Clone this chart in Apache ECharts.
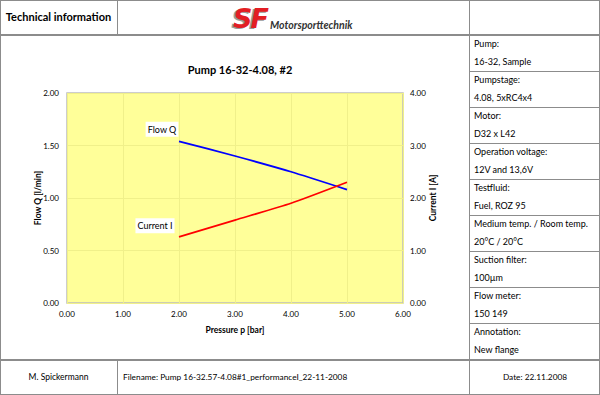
<!DOCTYPE html>
<html><head><meta charset="utf-8">
<script src="https://cdn.jsdelivr.net/npm/echarts@6/dist/echarts.min.js"></script>
<style>
html,body{margin:0;padding:0;background:#fff;}
#wrap{position:relative;width:600px;height:395px;font-family:Lato,"Noto Sans",sans-serif;color:#000;overflow:hidden;}
#chart{position:absolute;left:0;top:0;width:600px;height:395px;}
.ln{position:absolute;background:#8c8c8c;}
.t{position:absolute;font-size:9px;white-space:nowrap;line-height:12px;}
</style></head>
<body>
<div id="wrap">
  <div id="chart"></div>
  <div id="frame"></div>
</div>
<script>
const pressure = [2.0, 3.0, 4.0, 5.0];
const flowQ = [1.54, 1.40, 1.25, 1.08];
const currentI = [1.26, 1.58, 1.90, 2.30];
const chartTitle = 'Pump 16-32-4.08, #2';
const infoLabels = ['Pump:', 'Pumpstage:', 'Motor:', 'Operation voltage:', 'Testfluid:', 'Medium temp. / Room temp.', 'Suction filter:', 'Flow meter:', 'Annotation:'];
const infoValues = ['16-32, Sample', '4.08, 5xRC4x4', 'D32 x L42', '12V and 13,6V', 'Fuel, ROZ 95', '20°C / 20°C', '100µm', '150 149', 'New flange'];
const footer = ['M. Spickermann', 'Filename: Pump 16-32.57-4.08#1_performanceI_22-11-2008', 'Date: 22.11.2008'];

// frame
const fr = document.getElementById('frame');
function line(x,y,w,h,c){const d=document.createElement('div');d.className='ln';d.style.cssText=`left:${x}px;top:${y}px;width:${w}px;height:${h}px;`+(c?`background:${c};`:'');fr.appendChild(d);}
function txt(s,x,y,css){const d=document.createElement('div');d.className='t';d.textContent=s;d.style.cssText+=`left:${x}px;top:${y}px;`+(css||'');fr.appendChild(d);return d;}
line(0,0,600,1); line(0,394,600,1); line(0,0,1,395); line(599,0,1,395);
line(0,34,600,2);
line(0,359,600,1.5);
line(117,0,1,35); line(117,359,1,36);
line(469,0,1,395);
const top0=35, bh=(359-35)/9;
for(let i=0;i<9;i++){
  const y=top0+i*bh;
  if(i>0) line(469,Math.round(y),131,1);
  txt(infoLabels[i],474,Math.round(y+3));
  txt(infoValues[i],474,Math.round(y+21));
}
txt('Technical information',0,11,'width:117px;text-align:center;font-weight:bold;font-size:11px;');
txt(footer[0],0,371,'width:117px;text-align:center;font-size:8.5px;');
txt(footer[1],123,371,'font-size:8.3px;');
txt(footer[2],470,371,'width:130px;text-align:center;font-size:8.3px;');
// logo
txt('SF',233,5,'font-size:27px;line-height:28px;font-weight:900;font-style:italic;color:#e31e24;text-shadow:-2px 1px 0 #9a9a9a;letter-spacing:-2px;font-family:"DejaVu Sans",sans-serif;');
txt('Motorsporttechnik',270,19,'font-size:10.5px;font-style:italic;font-weight:bold;color:#333;');

const chart = echarts.init(document.getElementById('chart'), null, {renderer:'svg'});
const f2 = v => v.toFixed(2);
const lblStyle = {fontSize:9,color:'#000',fontFamily:'Lato'};
chart.setOption({
  animation:false,
  title:{text:chartTitle,left:235,top:59,textAlign:'center',textStyle:{fontSize:11,fontWeight:'bold',fontFamily:'Lato',color:'#000'}},
  grid:{left:67,top:93,width:336,height:210,show:true,backgroundColor:'#FFFF99',borderColor:'#bdbdbd',borderWidth:1.5},
  xAxis:{type:'value',min:0,max:6,interval:1,
    axisLabel:{formatter:f2,fontSize:8,color:'#000',fontFamily:'Lato',margin:7},
    axisLine:{show:false},axisTick:{show:false},
    splitLine:{show:true,lineStyle:{color:'#f0f08a',width:1}},
    name:'Pressure p [bar]',nameLocation:'middle',nameGap:22,nameMoveOverlap:false,
    nameTextStyle:{fontSize:8.5,fontWeight:'bold',fontFamily:'Lato',color:'#000'}},
  yAxis:[
    {type:'value',min:0,max:2,interval:0.5,
     axisLabel:{formatter:f2,fontSize:8,color:'#000',fontFamily:'Lato',margin:8},
     axisLine:{show:false},axisTick:{show:false},
     splitLine:{show:true,lineStyle:{color:'#f0f08a',width:1}},
     name:'Flow Q [l/min]',nameLocation:'middle',nameGap:25,nameRotate:90,nameMoveOverlap:false,
     nameTextStyle:{fontSize:8.5,fontWeight:'bold',fontFamily:'Lato',color:'#000'}},
    {type:'value',min:0,max:4,interval:1,position:'right',
     axisLabel:{formatter:f2,fontSize:8,color:'#000',fontFamily:'Lato',margin:7},
     axisLine:{show:false},axisTick:{show:false},splitLine:{show:false},
     name:'Current I [A]',nameLocation:'middle',nameGap:25,nameRotate:90,nameMoveOverlap:false,
     nameTextStyle:{fontSize:8.5,fontWeight:'bold',fontFamily:'Lato',color:'#000'}}
  ],
  series:[
    {type:'line',yAxisIndex:0,smooth:0.2,symbol:'circle',symbolSize:0,showSymbol:true,lineStyle:{color:'#0000ff',width:1.8},itemStyle:{color:'#0000ff'},
     data:pressure.map((p,i)=>i===0?{value:[p,flowQ[i]],label:{show:true,formatter:'Flow Q',position:'inside',offset:[-17,-12],backgroundColor:'#fff',padding:[3,2],...lblStyle}}:[p,flowQ[i]])},
    {type:'line',yAxisIndex:1,smooth:0.2,symbol:'circle',symbolSize:0,showSymbol:true,lineStyle:{color:'#ff0000',width:1.8},itemStyle:{color:'#ff0000'},
     data:pressure.map((p,i)=>i===0?{value:[p,currentI[i]],label:{show:true,formatter:'Current I',position:'inside',offset:[-24,-11],backgroundColor:'#fff',padding:[3,2],...lblStyle}}:[p,currentI[i]])}
  ]
});
</script>
</body></html>
